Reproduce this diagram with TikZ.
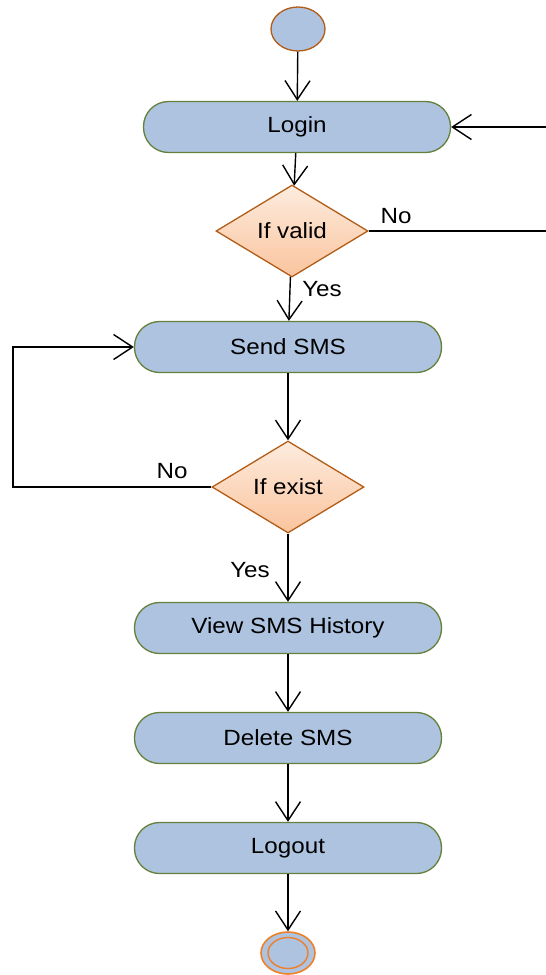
\documentclass[tikz,border=0pt]{standalone}
\usepackage{fontspec}
\setmainfont[FakeStretch=1.1]{Liberation Sans}
\usetikzlibrary{shapes.geometric,arrows.meta}
\definecolor{actfill}{RGB}{173,195,224}
\definecolor{actline}{RGB}{100,128,58}
\definecolor{dectop}{RGB}{253,236,222}
\definecolor{decbot}{RGB}{250,196,158}
\definecolor{decline}{RGB}{178,92,22}
\definecolor{endline}{RGB}{238,128,40}
\tikzset{
  action/.style={draw=actline,fill=actfill,line width=1.3pt,rounded corners=25pt,
    minimum width=307pt,minimum height=51pt},
  decision/.style={diamond,draw=decline,line width=1.3pt,top color=dectop,bottom color=decbot,
    minimum width=152pt,minimum height=92pt,inner sep=0pt},
  initial/.style={ellipse,draw=decline,fill=actfill,line width=1.3pt,minimum width=54pt,minimum height=44pt},
  final/.style={ellipse,draw=endline,fill=actfill,line width=1.6pt,minimum width=54pt,minimum height=42pt},
  finalin/.style={ellipse,draw=endline,line width=1.4pt,minimum width=40pt,minimum height=31pt}
}
\begin{document}
\begin{tikzpicture}[x=1pt,y=-1pt,>={Straight Barb[length=19pt,width=25pt]},line width=1.4pt,
  font=\fontsize{22}{26}\selectfont]
        \useasboundingbox (0,0) rectangle (546,975);
        \node [initial](start) at (298,29){};
        \node [action](login) at (297,127){Login};
        \node [decision](valid) at (292,231){If valid};
        \node [action](send) at (288,347){Send SMS};
        \node [decision](exist) at (288,487){If exist};
        \node [action](view) at (288,628){View SMS History};
        \node [action](delete) at (288,738){Delete SMS};
        \node [action](logout) at (288,848){Logout};
        \node [final](stop) at (288,953){};
        \node [finalin](stopin) at (stop){};
        \coordinate (backin) at (546,127);
        \coordinate (backout) at (546,231);
        \coordinate (loop) at (13,487);
        \draw [->](start)--(login);
        \draw [->](login)--(valid);
        \draw (valid.east)--(backout);
        \draw [->](backin)--(login.east);
        \draw [->](valid)--(send);
        \draw [->](send)--(exist);
        \draw [->](exist.west)--(loop)|-(send.west);
        \draw [->](exist)--(view);
        \draw [->](view)--(delete);
        \draw [->](delete)--(logout);
        \draw [->](logout)--(stop);
        \node (novalid) at (396,216){No};
        \node (yesvalid) at (322,289){Yes};
        \node (noexist) at (172,471){No};
        \node (yesexist) at (250,570){Yes};
    \end{tikzpicture}
\end{document}
